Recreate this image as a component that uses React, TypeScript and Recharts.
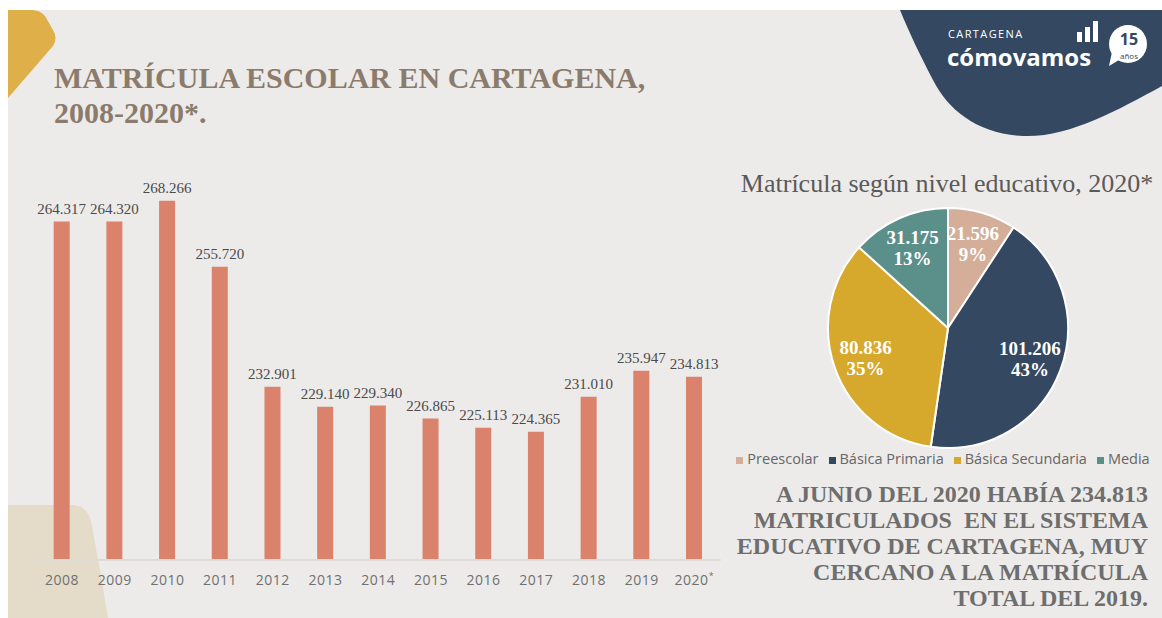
import { BarChart, Bar, XAxis, YAxis, LabelList, PieChart, Pie, Cell, Legend } from "recharts";

const years = ["2008", "2009", "2010", "2011", "2012", "2013", "2014", "2015", "2016", "2017", "2018", "2019", "2020*"];
const matricula = [264317, 264320, 268266, 255720, 232901, 229140, 229340, 226865, 225113, 224365, 231010, 235947, 234813];

const niveles = ["Preescolar", "Básica Primaria", "Básica Secundaria", "Media"];
const nivelValores = [21596, 101206, 80836, 31175];
const nivelPct = ["9%", "43%", "35%", "13%"];
const nivelColores = ["#d4ae98", "#344862", "#d6a82b", "#5b8f8a"];

const notaLineas = [
    "A JUNIO DEL 2020 HABÍA 234.813",
    "MATRICULADOS  EN EL SISTEMA",
    "EDUCATIVO DE CARTAGENA, MUY",
    "CERCANO A LA MATRÍCULA",
    "TOTAL DEL 2019.",
];

const barData = years.map((y, i) => ({ year: y, value: matricula[i] }));
const pieData = niveles.map((n, i) => ({ name: n, value: nivelValores[i], pct: nivelPct[i] }));

const fmt = (v) => String(v).replace(/\B(?=(\d{3})+(?!\d))/g, ".");

const serif = "'Liberation Serif', 'Times New Roman', serif";
const sans = "'Open Sans', 'Noto Sans', sans-serif";
const RADIAN = Math.PI / 180;

const YearTick = ({ x, y, payload }) => {
    const star = payload.value.endsWith("*");
    const label = star ? payload.value.slice(0, -1) : payload.value;
    return (
        <text x={x} y={y + 19} textAnchor="middle" fill="#707070" fontFamily={sans} fontSize={14} letterSpacing={0.5}>
            {label}
            {star && <tspan dy={-6} fontSize={9}>*</tspan>}
        </text>
    );
};

const PieLabel = ({ cx, cy, midAngle, outerRadius, index }) => {
    const r = outerRadius * 0.73;
    const x = cx + r * Math.cos(-midAngle * RADIAN);
    const y = cy + r * Math.sin(-midAngle * RADIAN);
    return (
        <text x={x} y={y} textAnchor="middle" fill="#ffffff" fontFamily={serif} fontWeight="bold" fontSize={19}>
            <tspan x={x} dy={-4}>{fmt(nivelValores[index])}</tspan>
            <tspan x={x} dy={21}>{nivelPct[index]}</tspan>
        </text>
    );
};

export default function App() {
    return (
        <div style={{ position: "absolute", left: 8, top: 10, width: 1154, height: 608, background: "#edebe9", overflow: "hidden" }}>
            <svg width={1154} height={608} style={{ position: "absolute", left: 0, top: 0 }}>
                {/* decoraciones */}
                <path d="M0,0 L24,0 Q32,0 37,6 L45,20 Q50,28 45,36 L0,88 Z" fill="#dfb04a" />
                <path d="M0,495 L64,495 Q80,495 84,515 Q88,540 92,560 L100,608 L0,608 Z" fill="#e4dcc8" />
                <path d="M892,0 L1154,0 L1154,76 C1110,100 1060,128 1015,126 C970,124 940,100 925,70 C912,45 900,20 892,0 Z" fill="#344862" />

                {/* logo */}
                <text x={940} y={28} fill="#ffffff" fontFamily={sans} fontSize={11} letterSpacing={1.4}>CARTAGENA</text>
                <text x={939} y={56} fill="#ffffff" fontFamily={sans} fontWeight="bold" fontSize={24} letterSpacing={0}>cómovamos</text>
                <rect x={1069} y={22} width={5} height={10} fill="#ffffff" />
                <rect x={1077} y={17} width={5} height={15} fill="#ffffff" />
                <rect x={1085} y={11} width={5} height={21} fill="#ffffff" />
                <circle cx={1120} cy={34} r={19} fill="#ffffff" />
                <path d="M1104,42 L1101,56 L1111,50 Z" fill="#ffffff" />
                <text x={1121} y={35} textAnchor="middle" fill="#344862" fontFamily={sans} fontWeight="bold" fontSize={16}>15</text>
                <text x={1121} y={49} textAnchor="middle" fill="#344862" fontFamily={sans} fontSize={8}>años</text>

                {/* titulos */}
                <text x={46} y={78} fill="#8b7b6c" fontFamily={serif} fontWeight="bold" fontSize={30}>MATRÍCULA ESCOLAR EN CARTAGENA,</text>
                <text x={46} y={113} fill="#8b7b6c" fontFamily={serif} fontWeight="bold" fontSize={30}>2008-2020*.</text>
                <text x={939} y={182} textAnchor="middle" fill="#5a5a5a" fontFamily={serif} fontSize={26}>Matrícula según nivel educativo, 2020*</text>

                {notaLineas.map((l, i) => (
                    <text key={i} x={1140} y={492 + i * 26} textAnchor="end" fill="#6e6e6e" fontFamily={serif} fontWeight="bold" fontSize={24} xmlSpace="preserve">
                        {l}
                    </text>
                ))}
            </svg>

            <div style={{ position: "absolute", left: 0, top: 0 }}>
                <BarChart width={740} height={600} data={barData} margin={{ top: 129, left: 27.7, right: 27.3, bottom: 20 }} barSize={16}>
                    <YAxis hide domain={[200000, 280000]} allowDataOverflow />
                    <XAxis
                        dataKey="year"
                        height={30}
                        axisLine={{ stroke: "#dedbd7", strokeWidth: 2 }}
                        tickLine={false}
                        tickMargin={0}
                        interval={0}
                        tick={<YearTick />}
                    />
                    <Bar dataKey="value" fill="#da826b" isAnimationActive={false}>
                        <LabelList
                            dataKey="value"
                            position="top"
                            offset={8}
                            formatter={fmt}
                            style={{ fill: "#4a4a4a", fontFamily: serif, fontSize: 15 }}
                        />
                    </Bar>
                </BarChart>
            </div>

            <div style={{ position: "absolute", left: 728, top: 190 }}>
                <PieChart width={424} height={268} margin={{ top: 0, right: 0, bottom: 0, left: 0 }}>
                    <Pie
                        data={pieData}
                        dataKey="value"
                        nameKey="name"
                        cx={212}
                        cy={128}
                        outerRadius={120}
                        startAngle={90}
                        endAngle={-270}
                        stroke="#ffffff"
                        strokeWidth={2}
                        label={PieLabel}
                        labelLine={false}
                        isAnimationActive={false}
                    >
                        {pieData.map((entry, index) => (
                            <Cell key={index} fill={nivelColores[index]} />
                        ))}
                    </Pie>
                    <Legend
                        verticalAlign="bottom"
                        iconType="square"
                        iconSize={7}
                        itemSorter={(item) => niveles.indexOf(item.value)}
                        formatter={(value) => <span style={{ color: "#666666" }}>{value}</span>}
                        wrapperStyle={{ fontFamily: sans, fontSize: 14.5 }}
                    />
                </PieChart>
            </div>
        </div>
    );
}
